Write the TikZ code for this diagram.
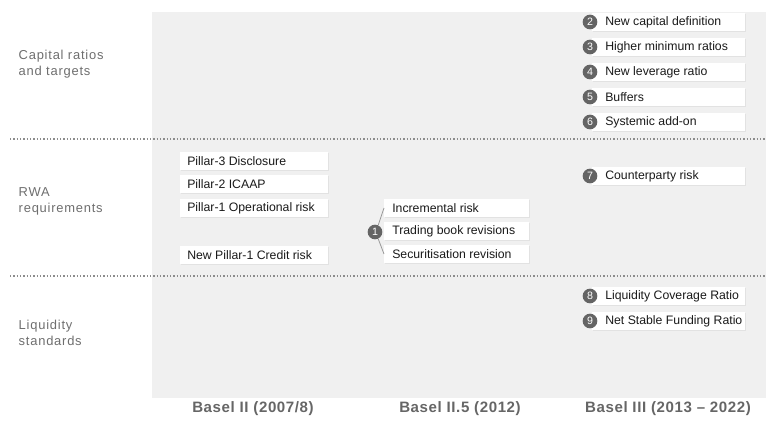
\documentclass[tikz,border=0pt]{standalone}
\usepackage{fontspec}
\setmainfont{Liberation Sans}
\newfontfamily\sidefont[LetterSpace=6]{Liberation Sans}
\newfontfamily\colfont[LetterSpace=4]{Liberation Sans}
\usetikzlibrary{shadows}
\definecolor{bgc}{HTML}{F0F0F0}
\definecolor{lblc}{HTML}{6E6E6E}
\definecolor{colc}{HTML}{666666}
\definecolor{circc}{HTML}{646464}
\definecolor{txtc}{HTML}{1A1A1A}
\definecolor{dotc}{HTML}{8C8C8C}
\newcommand\rtext[1]{\makebox[95.25pt][l]{#1}}
\newcommand\ltext[1]{\makebox[100.5pt][l]{#1}}
\newcommand\mtext[1]{\makebox[96.75pt][l]{#1}}
\tikzset{
  box/.style={fill=white, minimum height=13pt, inner ysep=0pt, anchor=west,
    font=\fontsize{9.2}{10}\selectfont, text=txtc,
    drop shadow={opacity=0.12, shadow xshift=0.8pt, shadow yshift=-0.8pt}},
  rbox/.style={box, inner xsep=9.75pt},
  lbox/.style={box, inner xsep=5.25pt},
  mbox/.style={box, inner xsep=6pt},
  num/.style={circle, fill=circc, text=white, minimum size=11pt, inner sep=0pt,
    font=\fontsize{8}{8}\selectfont},
  side/.style={anchor=west, align=left, text=lblc,
    font=\sidefont\fontsize{9.7}{12}\selectfont},
  col/.style={text=colc, font=\colfont\bfseries\fontsize{11.3}{13}\selectfont},
  dotline/.style={dotc, line width=1.1pt, dash pattern=on 1.1pt off 1.4pt},
  link/.style={draw=gray!80, line width=0.6pt}
}
\begin{document}
\begin{tikzpicture}[x=0.75pt,y=-0.75pt]
\useasboundingbox (0,0) rectangle (766,427);
\fill[bgc] (152,12) rectangle (766,398);
\draw[dotline] (10,139) -- (766,139);
\draw[dotline] (10,276) -- (766,276);

% side labels
\node[side] (s1) at (14,64) {Capital ratios\\and targets};
\node[side] (s2) at (14,201) {RWA\\requirements};
\node[side] (s3) at (14,333) {Liquidity\\standards};

% Basel III capital column
\node[rbox] (r2) at (592,22) {\rtext{New capital definition}};
\node[rbox] (r3) at (592,47) {\rtext{Higher minimum ratios}};
\node[rbox] (r4) at (592,72) {\rtext{New leverage ratio}};
\node[rbox] (r5) at (592,97) {\rtext{Buffers}};
\node[rbox] (r6) at (592,122) {\rtext{Systemic add-on}};
\node[rbox] (r7) at (592,176) {\rtext{Counterparty risk}};
\node[rbox] (r8) at (592,296) {\rtext{Liquidity Coverage Ratio}};
\node[rbox] (r9) at (592,321) {\rtext{Net Stable Funding Ratio}};
\node[num] (n2) at (590,22) {2};
\node[num] (n3) at (590,47) {3};
\node[num] (n4) at (590,72) {4};
\node[num] (n5) at (590,97) {5};
\node[num] (n6) at (590,122) {6};
\node[num] (n7) at (590,176) {7};
\node[num] (n8) at (590,296) {8};
\node[num] (n9) at (590,321) {9};

% Basel II column
\node[lbox] (l3) at (180,161) {\ltext{Pillar-3 Disclosure}};
\node[lbox] (l2) at (180,184) {\ltext{Pillar-2 ICAAP}};
\node[lbox] (l1) at (180,208) {\ltext{Pillar-1 Operational risk}};
\node[lbox] (l0) at (180,255) {\ltext{New Pillar-1 Credit risk}};

% Basel II.5 column
\node[mbox] (m1) at (384,208) {\mtext{Incremental risk}};
\node[mbox] (m2) at (384,231) {\mtext{Trading book revisions}};
\node[mbox] (m3) at (384,254) {\mtext{Securitisation revision}};
\node[num] (n1) at (375,232) {1};
\draw[link] (n1.65) -- (m1.west);
\draw[link] (n1.-65) -- (m3.west);

% column titles
\node[col] (c1) at (253,409) {Basel II (2007/8)};
\node[col] (c2) at (460,409) {Basel II.5 (2012)};
\node[col] (c3) at (668,409) {Basel III (2013 – 2022)};
\end{tikzpicture}
\end{document}
